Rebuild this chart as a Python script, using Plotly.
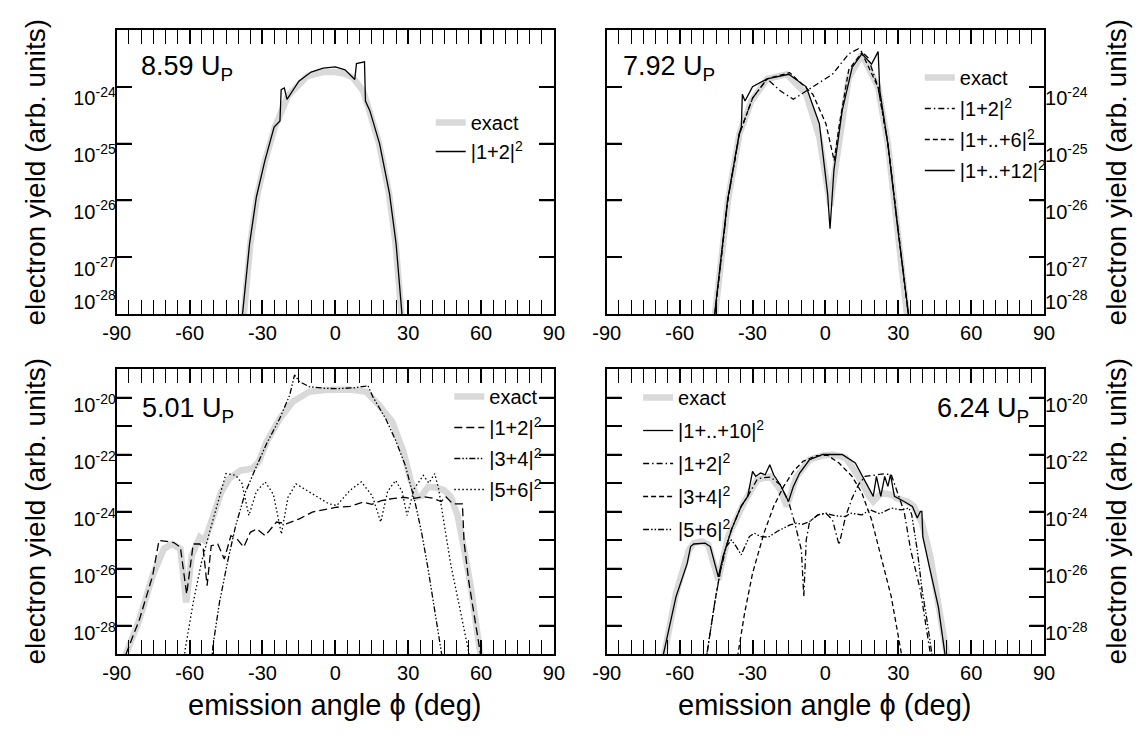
import plotly.graph_objects as go

# ---------------- data (angles in deg, yields as log10 exponents) ----------------
# Panel A: 8.59 Up
a_exact_x = [-38.5, -37.7, -35.0, -32.3, -28.9, -24.9, -19.5, -11.5, -5, 0, 4, 7.3, 11.4, 14.0, 18.0, 22.1, 24.8, 27.2, 28]
a_exact_y = [-28.4, -28.0, -26.76, -25.94, -25.3, -24.71, -24.16, -23.81, -23.74, -23.74, -23.77, -23.84, -24.07, -24.42, -25.0, -25.88, -26.76, -28.0, -28.4]
a_12_x = [-39, -38.2, -35.3, -32.5, -29, -25.2, -22.8, -22.3, -21.0, -19.9, -15, -10, -5, 0, 4, 8.0, 8.7, 12.0, 12.4, 14.2, 18.2, 22.3, 25.0, 27.5, 28.2]
a_12_y = [-28.4, -28.0, -26.76, -25.94, -25.3, -24.71, -24.6, -24.05, -24.02, -24.22, -23.9, -23.74, -23.67, -23.65, -23.7, -23.87, -23.59, -23.56, -24.25, -24.42, -25.0, -25.88, -26.76, -28.0, -28.4]

# Panel B: 7.92 Up
b_exact_x = [-46, -45.4, -40.1, -35.4, -30.5, -24.0, -15.9, -7.9, -2.5, 0.5, 2.0, 3.5, 5.6, 9.6, 15.0, 21.7, 25.7, 29.7, 34.0, 34.6]
b_exact_y = [-28.4, -28.0, -26.0, -24.83, -24.25, -23.86, -23.78, -24.13, -24.89, -25.6, -26.1, -25.6, -25.0, -23.84, -23.43, -24.01, -25.0, -26.47, -28.0, -28.4]
b_112_x = [-46.3, -45.6, -40.3, -35.5, -34.6, -34.2, -33.1, -30, -24.0, -15.1, -7.9, -2.5, 0.9, 1.9, 3.5, 6.9, 11.0, 15.0, 19.0, 21.2, 21.7, 22.4, 25.7, 29.7, 34.2, 34.8]
b_112_y = [-28.4, -28.0, -26.0, -24.83, -24.7, -24.13, -24.25, -24.0, -23.86, -23.78, -24.0, -24.65, -25.88, -26.5, -25.47, -24.42, -23.66, -23.42, -23.6, -23.4, -23.38, -24.07, -25.0, -26.47, -28.0, -28.4]
b_16_x = [-46.2, -45.5, -40.2, -35.4, -30, -24.0, -14.7, -5.2, 0.2, 3.1, 3.6, 5.6, 9.6, 15.0, 21.7, 25.7, 29.7, 34.1, 34.7]
b_16_y = [-28.4, -28.0, -26.0, -24.83, -24.2, -23.86, -23.75, -24.13, -24.65, -25.24, -25.3, -24.7, -23.7, -23.4, -24.01, -25.0, -26.47, -28.0, -28.4]
b_12_x = [-46.2, -45.5, -40.2, -35.4, -30, -24.0, -18.6, -13.2, -5.2, 2.9, 9.6, 13.6, 17.6, 21.7, 25.7, 29.7, 34.1, 34.7]
b_12_y = [-28.4, -28.0, -26.0, -24.83, -24.2, -23.86, -24.07, -24.22, -24.0, -23.78, -23.42, -23.33, -23.49, -24.01, -25.0, -26.47, -28.0, -28.4]

# Panel C: 5.01 Up
c_exact_x = [-88, -86.0, -80.6, -75.2, -70.6, -67.2, -63.8, -61.4, -59.1, -55.8, -53.8, -51.1, -47.0, -43.7, -39.0, -34.3, -31.6, -28.3, -22.9, -17.5, -10.8, -4.1, 0, 6, 12.7, 18.0, 23.4, 28.1, 30.8, 33.5, 35.5, 38.2, 41.5, 44.9, 47.6, 50.3, 53.0, 55.7, 59.7, 60.5]
c_exact_y = [-29.4, -28.95, -27.78, -26.25, -25.31, -25.14, -25.31, -27.19, -25.55, -24.90, -25.02, -24.37, -23.32, -22.85, -22.56, -22.50, -22.26, -21.56, -20.74, -20.15, -19.80, -19.74, -19.72, -19.72, -19.80, -20.27, -20.85, -21.91, -22.85, -23.49, -23.45, -23.14, -23.16, -23.26, -23.49, -24.14, -25.31, -26.61, -29.0, -29.4]
c_12_x = [-88, -86.0, -80.6, -75.2, -72.6, -69.5, -66.5, -63.8, -61.2, -58.5, -55.8, -54.4, -52.8, -51.1, -48.4, -45.7, -43.0, -40.4, -37.7, -35.0, -32.3, -28.9, -24.2, -20.2, -14.8, -9.5, -2.7, 0.6, 6.0, 11.4, 15.0, 19.0, 23.4, 28.0, 32.0, 36.0, 40.0, 43.6, 45.5, 48.3, 52.3, 52.6, 53.0, 55.0, 57.7, 59.7, 60.5]
c_12_y = [-29.4, -28.95, -27.78, -26.25, -25.02, -25.05, -25.09, -25.25, -26.9, -25.14, -25.14, -25.3, -26.6, -25.2, -25.14, -25.67, -24.85, -24.97, -25.25, -24.73, -24.61, -24.85, -24.37, -24.43, -24.26, -24.02, -23.90, -23.85, -23.82, -23.67, -23.75, -23.62, -23.55, -23.50, -23.55, -23.48, -23.53, -23.65, -23.48, -23.73, -23.73, -24.6, -25.08, -26.49, -27.89, -29.0, -29.4]
c_34_x = [-51, -50.4, -47.7, -44.4, -41.0, -37.0, -32.9, -28.3, -22.9, -18.8, -16.8, -14.8, -10.8, -4, 0.6, 8, 12.5, 13.4, 15.4, 20.7, 24.8, 28.8, 32.8, 35.5, 38.2, 40.9, 43.6, 44.5]
c_34_y = [-29.4, -28.72, -27.19, -25.78, -24.49, -23.32, -22.50, -21.62, -20.74, -19.92, -19.21, -19.44, -19.62, -19.68, -19.69, -19.66, -19.6, -19.58, -19.97, -20.74, -21.50, -22.38, -23.67, -24.73, -26.02, -27.43, -28.72, -29.4]
c_56_x = [-62.5, -61.8, -58.5, -55.1, -51.8, -48.4, -45.0, -41.0, -38.5, -35.6, -32.5, -28.9, -25.5, -22.2, -19.5, -16.2, -10, -2.7, 0.6, 6.0, 10.7, 15.2, 18.7, 21.5, 24.8, 27.5, 29.5, 32.5, 36.2, 38.5, 40.9, 42.5, 44.9, 47.6, 51.6, 55.0, 56]
c_56_y = [-29.4, -28.83, -27.19, -25.78, -24.73, -23.67, -22.67, -22.73, -23.0, -24.14, -23.3, -22.96, -23.4, -24.79, -23.5, -23.03, -23.35, -23.73, -23.79, -23.26, -22.96, -23.45, -24.37, -23.3, -22.91, -23.3, -24.14, -23.2, -22.73, -23.0, -22.67, -23.2, -24.49, -25.90, -27.54, -28.95, -29.4]

# Panel D: 6.24 Up
d_exact_x = [-67.5, -66.3, -61.5, -56.2, -54.2, -51, -48.2, -44.1, -40.1, -33.3, -28.0, -22.6, -18.6, -15.9, -11.9, -6.5, -1.1, 3, 8.3, 13.6, 17.6, 19.7, 23.0, 27.1, 29.1, 33.8, 36.4, 39.8, 43.2, 46.5, 49.9, 50.7]
d_exact_y = [-29.4, -29.0, -26.87, -25.35, -25.11, -25.05, -25.17, -26.4, -24.88, -23.65, -22.88, -22.77, -23.24, -23.82, -22.77, -22.18, -22.04, -22.0, -22.12, -22.77, -23.41, -23.65, -23.35, -23.41, -23.53, -23.65, -23.82, -24.41, -25.58, -27.11, -29.0, -29.4]
d_110_x = [-67.7, -66.7, -61.5, -56.9, -55.5, -54.2, -49.5, -47.4, -44.1, -42.1, -38.7, -34.7, -32.0, -30.0, -28.7, -26.7, -24.8, -22.9, -21.3, -18.6, -15.2, -13.2, -10.6, -6.5, -1.1, 4.2, 6.9, 12.3, 16.3, 19.7, 21.0, 22.8, 24.4, 25.7, 26.8, 28.4, 32.4, 35.8, 37.8, 39.1, 39.7, 40.1, 42.8, 46.5, 49.2, 50]
d_110_y = [-29.4, -29.0, -26.99, -25.82, -25.23, -25.14, -25.11, -25.23, -26.29, -25.58, -24.64, -23.82, -23.47, -22.59, -22.77, -22.65, -22.71, -22.36, -22.71, -23.06, -23.65, -23.12, -22.65, -22.18, -22.0, -22.0, -22.0, -22.30, -22.94, -23.47, -22.77, -23.47, -22.77, -23.12, -22.71, -23.47, -23.65, -23.82, -24.23, -24.0, -24.0, -24.88, -25.94, -27.35, -29.0, -29.4]
d_12_x = [-49.5, -48.8, -45.4, -43.4, -42.1, -38.7, -34.7, -32.0, -28.0, -26.0, -22.6, -18.6, -15.2, -12.6, -9.9, -8.9, -7.9, -6.5, -3.1, 0.2, 2.9, 5.6, 8.3, 11.0, 13.6, 16.3, 20.3, 24, 27.1, 29.7, 32.4, 35.1, 39.1, 43.2, 44]
d_12_y = [-29.4, -29.0, -27.11, -26.17, -25.58, -24.64, -23.82, -23.47, -22.86, -22.82, -22.79, -23.06, -23.65, -24.41, -25.35, -26.99, -25.0, -24.35, -24.12, -24.06, -24.29, -25.17, -24.18, -23.53, -23.06, -22.77, -22.71, -22.68, -22.71, -23.35, -24.0, -25.35, -26.76, -29.0, -29.4]
d_34_x = [-37, -36.0, -33.3, -30.0, -25.3, -21.3, -17.2, -13.2, -9.2, -3.8, 1.0, 5.6, 11.0, 15.0, 19.0, 23.0, 27.1, 31.3, 32]
d_34_y = [-29.4, -29.0, -27.58, -26.17, -24.76, -23.82, -23.12, -22.59, -22.24, -22.04, -22.03, -22.30, -22.77, -23.35, -24.29, -25.58, -26.99, -29.0, -29.4]
d_56_x = [-49.5, -48.8, -45.4, -43.4, -40.8, -38.7, -36.7, -34.7, -31.3, -29.3, -26.7, -23.5, -19.9, -14.6, -11.9, -9.5, -6.5, -3.1, 0.2, 4, 8.3, 10.3, 15.0, 18.3, 22.4, 27.1, 31.1, 34.4, 35.5, 37.8, 39.8, 41.8, 43.8, 44.5]
d_56_y = [-29.4, -29.0, -27.11, -26.17, -25.23, -25.0, -25.23, -25.52, -24.88, -24.76, -24.88, -24.9, -24.70, -24.47, -24.41, -24.45, -24.35, -24.12, -24.06, -24.15, -24.18, -24.06, -24.12, -23.94, -24.08, -23.88, -23.94, -23.88, -24.1, -25.35, -26.76, -27.81, -29.0, -29.4]

x_ticks = [-90, -60, -30, 0, 30, 60, 90]
x_ticktext = ["-90", "-60", "-30", "0", "30", "60", "90"]
x_range = [-90, 90]
top_range = [-28, -23]                              # decades shown (log10 of yield), top row
top_label_exps = [-28, -27, -26, -25, -24]
top_mark_exps = [-27, -26, -25, -24]
bot_range = [-29, -19]                              # decades shown (log10 of yield), bottom row
bot_label_exps = [-28, -26, -24, -22, -20]
bot_mark_exps = [-28, -27, -26, -25, -24, -23, -22, -21, -20]
panel_labels = ["8.59 U<sub>P</sub>", "7.92 U<sub>P</sub>", "5.01 U<sub>P</sub>", "6.24 U<sub>P</sub>"]

# ---------------- styles ----------------
FONT = "Liberation Sans, Arial, sans-serif"
GRAY = "#d9d9d9"
W = 1147
H = 735
PLOT_W = 447.0
EXACT = dict(color=GRAY, width=6.5)
SOLID = dict(color="black", width=1.3)
DASH = dict(color="black", width=1.3, dash="5px,3px")
LDASH = dict(color="black", width=1.3, dash="8px,4px")
DASHDOT = dict(color="black", width=1.3, dash="6px,3px,1.5px,3px")
DDOT = dict(color="black", width=1.3, dash="6px,2px,1.5px,2px,1.5px,2px")
DOT = dict(color="black", width=1.3, dash="1.5px,2.5px")

fig = go.Figure()
gid = [0]

def axn(ax):
    return "" if ax == 1 else str(ax)

def add(xs, ys, name, line, ax, legend):
    # y axis is the decade (log10) scale of the yield
    gid[0] += 1
    fig.add_trace(go.Scatter(
        x=xs, y=ys, mode="lines", name=name, line=line,
        xaxis="x" + axn(ax), yaxis="y" + axn(ax),
        legend=legend, legendgroup="g%d" % gid[0], hoverinfo="skip"))

add(a_exact_x, a_exact_y, "exact", EXACT, 1, "legend")
add(a_12_x, a_12_y, "|1+2|<sup>2</sup>", SOLID, 1, "legend")

add(b_exact_x, b_exact_y, "exact", EXACT, 2, "legend2")
add(b_12_x, b_12_y, "|1+2|<sup>2</sup>", DASHDOT, 2, "legend2")
add(b_16_x, b_16_y, "|1+..+6|<sup>2</sup>", DASH, 2, "legend2")
add(b_112_x, b_112_y, "|1+..+12|<sup>2</sup>", SOLID, 2, "legend2")

add(c_exact_x, c_exact_y, "exact", EXACT, 3, "legend3")
add(c_12_x, c_12_y, "|1+2|<sup>2</sup>", LDASH, 3, "legend3")
add(c_34_x, c_34_y, "|3+4|<sup>2</sup>", DDOT, 3, "legend3")
add(c_56_x, c_56_y, "|5+6|<sup>2</sup>", DOT, 3, "legend3")

add(d_exact_x, d_exact_y, "exact", EXACT, 4, "legend4")
add(d_110_x, d_110_y, "|1+..+10|<sup>2</sup>", SOLID, 4, "legend4")
add(d_12_x, d_12_y, "|1+2|<sup>2</sup>", DASHDOT, 4, "legend4")
add(d_34_x, d_34_y, "|3+4|<sup>2</sup>", DASH, 4, "legend4")
add(d_56_x, d_56_y, "|5+6|<sup>2</sup>", DDOT, 4, "legend4")

# decade tick marks on both vertical frame sides, 15 px long, drawn on the axis scale
tick_len = (x_range[1] - x_range[0]) * 15.0 / PLOT_W
for ax, marks in [(1, top_mark_exps), (2, top_mark_exps), (3, bot_mark_exps), (4, bot_mark_exps)]:
    tx, ty = [], []
    for e in marks:
        tx += [x_range[0], x_range[0] + tick_len, None, x_range[1] - tick_len, x_range[1], None]
        ty += [e, e, None, e, e, None]
    fig.add_trace(go.Scatter(x=tx, y=ty, mode="lines", line=dict(color="black", width=1.5),
                             xaxis="x" + axn(ax), yaxis="y" + axn(ax), showlegend=False,
                             hoverinfo="skip", cliponaxis=False))

# empty carriers so the label-only overlay axes are drawn (they draw no marks)
for xa, ya in [("x", "y5"), ("x2", "y6"), ("x3", "y7"), ("x4", "y8")]:
    fig.add_trace(go.Scatter(x=[], y=[], mode="lines", xaxis=xa, yaxis=ya, showlegend=False, hoverinfo="skip"))

def px_x(p):
    return p / W

def px_y(p):
    return 1 - p / H

xdom_l = [px_x(105), px_x(552)]
xdom_r = [px_x(606), px_x(1053)]
ydom_t = [px_y(314), px_y(30)]
ydom_b = [px_y(654), px_y(369)]

TICKFONT = dict(family=FONT, size=20, color="black")

def xaxis(dom, anchor):
    return dict(domain=dom, anchor=anchor, range=x_range, tickvals=x_ticks, ticktext=x_ticktext,
                ticks="inside", ticklen=14, tickwidth=1.5, tickcolor="black",
                minor=dict(dtick=5, tick0=0, ticks="inside", ticklen=7, tickwidth=1.2, tickcolor="black"),
                showline=True, linecolor="black", linewidth=2, mirror="allticks",
                showgrid=False, zeroline=False, fixedrange=True, tickfont=TICKFONT)

def yaxis_marks(dom, anchor, rng, side):
    return dict(domain=dom, anchor=anchor, range=rng, side=side,
                tickmode="linear", tick0=0, dtick=1, showticklabels=False,
                ticks="inside", ticklen=15, tickwidth=1.5, tickcolor="black",
                showline=True, linecolor="black", linewidth=2, mirror="allticks",
                showgrid=False, zeroline=False, fixedrange=True, tickfont=TICKFONT)

def yaxis_labels(over, anchor, rng, label_exps, label_offsets, side):
    # labels sit slightly below their decade mark, as in the original figure
    lv = [e + o for e, o in zip(label_exps, label_offsets)]
    lt = ["10<sup>%d</sup>" % e for e in label_exps]
    return dict(overlaying=over, anchor=anchor, range=rng, side=side,
                tickvals=lv, ticktext=lt, ticks="", showline=False, showgrid=False, zeroline=False,
                fixedrange=True, tickfont=TICKFONT)

top_off = [0.22, -0.2, -0.2, -0.2, -0.2]
bot_off = [-0.28, -0.28, -0.28, -0.28, -0.28]

fig.update_layout(
    width=W, height=H,
    margin=dict(l=0, r=0, t=0, b=0),
    paper_bgcolor="white", plot_bgcolor="white",
    font=dict(family=FONT, color="black"),
    xaxis=xaxis(xdom_l, "y"), yaxis=yaxis_marks(ydom_t, "x", top_range, "left"),
    xaxis2=xaxis(xdom_r, "y2"), yaxis2=yaxis_marks(ydom_t, "x2", top_range, "right"),
    xaxis3=xaxis(xdom_l, "y3"), yaxis3=yaxis_marks(ydom_b, "x3", bot_range, "left"),
    xaxis4=xaxis(xdom_r, "y4"), yaxis4=yaxis_marks(ydom_b, "x4", bot_range, "right"),
    yaxis5=yaxis_labels("y", "x", top_range, top_label_exps, top_off, "left"),
    yaxis6=yaxis_labels("y2", "x2", top_range, top_label_exps, top_off, "right"),
    yaxis7=yaxis_labels("y3", "x3", bot_range, bot_label_exps, bot_off, "left"),
    yaxis8=yaxis_labels("y4", "x4", bot_range, bot_label_exps, bot_off, "right"),
)

leg_common = dict(bgcolor="rgba(0,0,0,0)", borderwidth=0, xanchor="left", yanchor="top",
                  font=dict(family=FONT, size=20, color="black"))
fig.update_layout(
    legend=dict(x=px_x(426), y=px_y(103), tracegroupgap=0, **leg_common),
    legend2=dict(x=px_x(926), y=px_y(58), tracegroupgap=2, **leg_common),
    legend3=dict(x=px_x(445), y=px_y(377), tracegroupgap=2, **leg_common),
    legend4=dict(x=px_x(638), y=px_y(378), tracegroupgap=4, **leg_common),
)

ann = []
ann.append(dict(text=panel_labels[0], x=px_x(128), y=px_y(68), xanchor="left", yanchor="middle"))
ann.append(dict(text=panel_labels[1], x=px_x(621), y=px_y(68), xanchor="left", yanchor="middle"))
ann.append(dict(text=panel_labels[2], x=px_x(129), y=px_y(410), xanchor="left", yanchor="middle"))
ann.append(dict(text=panel_labels[3], x=px_x(1040), y=px_y(410), xanchor="right", yanchor="middle"))
for a in ann:
    a.update(xref="paper", yref="paper", showarrow=False, font=dict(family=FONT, size=27, color="black"))

ytitle = "electron yield (arb. units)"
xtitle = "emission angle \u03d5 (deg)"
for (xp, yp) in [(21, 172), (21, 511), (1127, 172), (1127, 511)]:
    ann.append(dict(text=ytitle, x=px_x(xp), y=px_y(yp), xref="paper", yref="paper", showarrow=False,
                    textangle=-90, xanchor="center", yanchor="middle",
                    font=dict(family=FONT, size=28, color="black")))
for xp in [328, 829]:
    ann.append(dict(text=xtitle, x=px_x(xp), y=px_y(705), xref="paper", yref="paper", showarrow=False,
                    xanchor="center", yanchor="middle", font=dict(family=FONT, size=29, color="black")))
fig.update_layout(annotations=ann)

fig.write_html("out.html")
